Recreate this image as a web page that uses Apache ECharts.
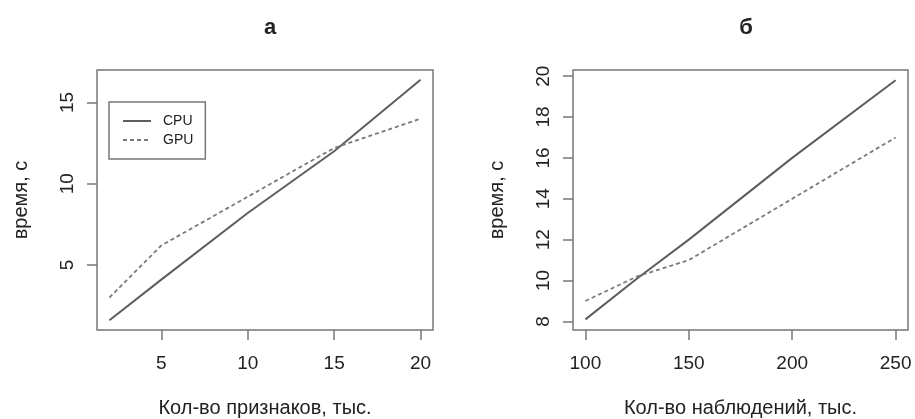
<!DOCTYPE html>
<html>
<head>
<meta charset="utf-8">
<script src="https://cdn.jsdelivr.net/npm/echarts@6/dist/echarts.min.js"></script>
<style>html,body{margin:0;padding:0;background:#fff}#c{width:915px;height:419px}</style>
</head>
<body>
<div id="c"></div>
<script>
// Panel а: number of features (thousands)
const featuresK = [2, 5, 10, 15, 20];
const cpuFeat = [1.6, 4.1, 8.2, 12.0, 16.4];
const gpuFeat = [3.0, 6.2, 9.2, 12.2, 14.0];
const xTicksA = [5, 10, 15, 20];
const yTicksA = [5, 10, 15];
// Panel б: number of observations (thousands)
const obsK = [100, 125, 150, 200, 250];
const cpuObs = [8.1, 10.1, 12.0, 16.0, 19.8];
const gpuObs = [9.0, 10.2, 11.0, 14.0, 17.0];
const xTicksB = [100, 150, 200, 250];
const yTicksB = [8, 10, 12, 14, 16, 18, 20];

const FONT = 'Liberation Sans';
const TXT = '#222';
const AXC = '#777';
const pairs = (xs, ys) => xs.map((x, i) => [x, ys[i]]);

function xAx(idx, min, max, ticks, name) {
  return {
    type: 'value', gridIndex: idx, min: min, max: max,
    splitLine: {show: false},
    axisLine: {show: false},
    axisTick: {show: true, inside: false, length: 10, customValues: ticks, lineStyle: {color: AXC, width: 1.5}},
    axisLabel: {customValues: ticks, margin: 24, color: TXT, fontSize: 19, fontFamily: FONT},
    name: name, nameLocation: 'middle', nameGap: 68,
    nameTextStyle: {color: TXT, fontSize: 20, fontFamily: FONT}
  };
}
function yAx(idx, min, max, ticks, name) {
  return {
    type: 'value', gridIndex: idx, min: min, max: max,
    splitLine: {show: false},
    axisLine: {show: false},
    axisTick: {show: true, inside: false, length: 10, customValues: ticks, lineStyle: {color: AXC, width: 1.5}},
    axisLabel: {customValues: ticks, margin: 20, rotate: 90, color: TXT, fontSize: 19, fontFamily: FONT},
    name: name, nameLocation: 'middle', nameGap: 66, nameRotate: 90,
    nameTextStyle: {color: TXT, fontSize: 20, fontFamily: FONT}
  };
}
const cpuStyle = {color: '#5e5e5e', width: 2, type: 'solid'};
const gpuStyle = {color: '#7a7a7a', width: 1.8, type: [4, 3]};
const gridBase = {top: 70, height: 260, show: true, borderColor: AXC, borderWidth: 1.5,
  backgroundColor: 'transparent', containLabel: false, outerBoundsMode: 'none'};

const chart = echarts.init(document.getElementById('c'), null, {renderer: 'canvas'});
chart.setOption({
  animation: false,
  backgroundColor: '#fff',
  title: [
    {text: 'а', left: 265, top: 12, textAlign: 'center', textStyle: {fontSize: 22, fontWeight: 'bold', color: TXT, fontFamily: FONT}},
    {text: 'б', left: 741, top: 12, textAlign: 'center', textStyle: {fontSize: 22, fontWeight: 'bold', color: TXT, fontFamily: FONT}}
  ],
  legend: {
    data: ['CPU', 'GPU'], orient: 'vertical', left: 109, top: 102,
    padding: [12, 12, 12, 13], itemGap: 5, itemWidth: 28, itemHeight: 14,
    itemStyle: {opacity: 0},
    borderColor: AXC, borderWidth: 1.5, borderRadius: 0,
    textStyle: {color: TXT, fontSize: 14, fontFamily: FONT, padding: [0, 0, 0, 7]}
  },
  grid: [
    Object.assign({left: 97, width: 336}, gridBase),
    Object.assign({left: 573, width: 335}, gridBase)
  ],
  xAxis: [
    xAx(0, 1.28, 20.72, xTicksA, 'Кол-во признаков, тыс.'),
    xAx(1, 94, 256, xTicksB, 'Кол-во наблюдений, тыс.')
  ],
  yAxis: [
    yAx(0, 1.0, 17.0, yTicksA, 'время, с'),
    yAx(1, 7.58, 20.3, yTicksB, 'время, с')
  ],
  series: [
    {name: 'CPU', type: 'line', xAxisIndex: 0, yAxisIndex: 0, data: pairs(featuresK, cpuFeat), symbol: 'none', lineStyle: cpuStyle, itemStyle: {color: '#5e5e5e'}},
    {name: 'GPU', type: 'line', xAxisIndex: 0, yAxisIndex: 0, data: pairs(featuresK, gpuFeat), symbol: 'none', lineStyle: gpuStyle, itemStyle: {color: '#7a7a7a'}},
    {name: 'CPU', type: 'line', xAxisIndex: 1, yAxisIndex: 1, data: pairs(obsK, cpuObs), symbol: 'none', lineStyle: cpuStyle, itemStyle: {color: '#5e5e5e'}},
    {name: 'GPU', type: 'line', xAxisIndex: 1, yAxisIndex: 1, data: pairs(obsK, gpuObs), symbol: 'none', lineStyle: gpuStyle, itemStyle: {color: '#7a7a7a'}}
  ]
});
</script>
</body>
</html>
